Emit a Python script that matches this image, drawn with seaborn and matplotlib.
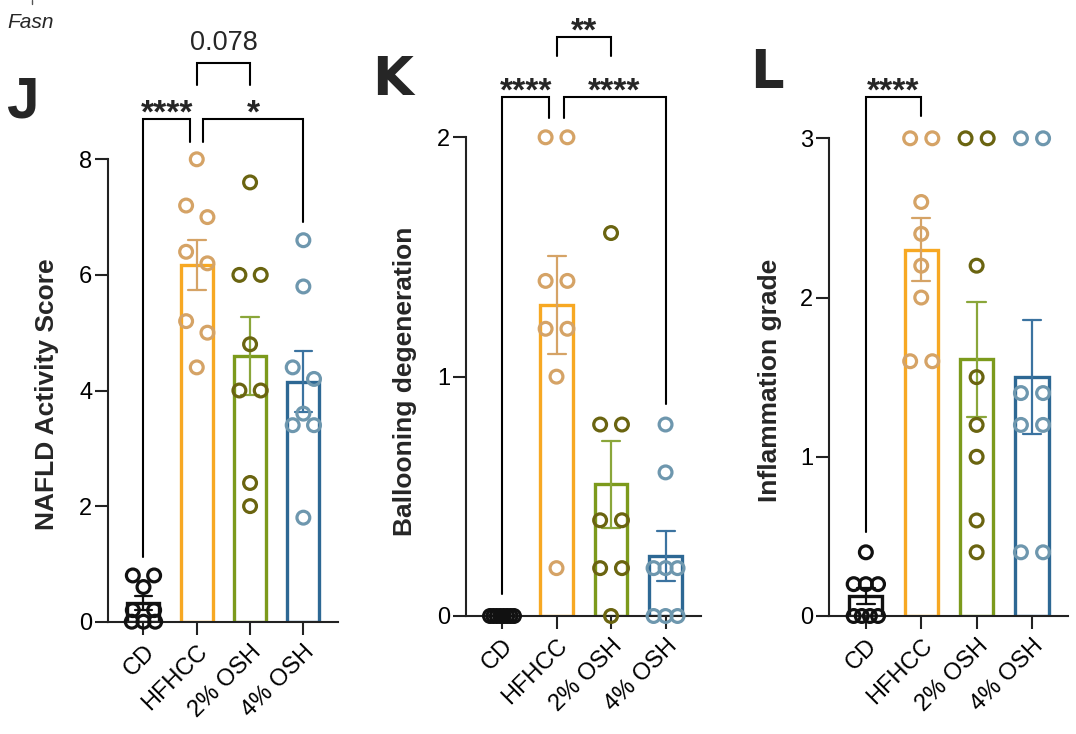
import numpy as np
import pandas as pd
import matplotlib
matplotlib.use("Agg")
import matplotlib.pyplot as plt
import matplotlib.transforms as mtrans
import seaborn as sns
from matplotlib.lines import Line2D

groups = ["CD", "HFHCC", "2% OSH", "4% OSH"]

# NAFLD activity score
nas_cd = [0.8, 0.8, 0.6, 0.2, 0.2, 0.0, 0.0, 0.0]
nas_hfhcc = [8.0, 7.2, 7.0, 6.4, 6.2, 5.2, 5.0, 4.4]
nas_osh2 = [7.6, 6.0, 6.0, 4.8, 4.0, 4.0, 2.4, 2.0]
nas_osh4 = [6.6, 5.8, 4.4, 4.2, 3.6, 3.4, 3.4, 1.8]

# ballooning degeneration
ball_cd = [0.0, 0.0, 0.0, 0.0, 0.0, 0.0, 0.0, 0.0]
ball_hfhcc = [2.0, 2.0, 1.4, 1.4, 1.2, 1.2, 1.0, 0.2]
ball_osh2 = [1.6, 0.8, 0.8, 0.4, 0.4, 0.2, 0.2, 0.0]
ball_osh4 = [0.8, 0.6, 0.2, 0.2, 0.2, 0.0, 0.0, 0.0]

# inflammation grade
infl_cd = [0.4, 0.2, 0.2, 0.2, 0.0, 0.0, 0.0, 0.0]
infl_hfhcc = [3.0, 3.0, 2.6, 2.4, 2.2, 2.0, 1.6, 1.6]
infl_osh2 = [3.0, 3.0, 2.2, 1.5, 1.2, 1.0, 0.6, 0.4]
infl_osh4 = [3.0, 3.0, 1.4, 1.4, 1.2, 1.2, 0.4, 0.4]

bar_colors = ["#111111", "#F7A823", "#7C9A1C", "#2D6894"]
dot_colors = ["#111111", "#D5A366", "#6A6410", "#6E97AE"]
err_colors = ["#111111", "#D5A366", "#8AA63A", "#3B73A0"]

sns.set_style("ticks")
plt.rcParams["font.family"] = ["Liberation Sans", "DejaVu Sans"]

W, H = 1076, 734
fig = plt.figure(figsize=(W / 100, H / 100), dpi=100)


def px_axes(left, right, bottom, top):
    return fig.add_axes([left / W, 1 - bottom / H, (right - left) / W, (bottom - top) / H])


def dot_offsets(vals, near):
    # GraphPad-like spreading: equal values side by side, close pairs split
    vals = np.asarray(vals, float)
    order = np.argsort(-vals, kind="stable")
    rows = []
    for i in order:
        if rows and vals[rows[-1][0]] == vals[i]:
            rows[-1].append(i)
        else:
            rows.append([i])
    off = np.zeros(len(vals))
    j = 0
    while j < len(rows):
        r = rows[j]
        if (len(r) == 1 and j + 1 < len(rows) and len(rows[j + 1]) == 1
                and vals[r[0]] - vals[rows[j + 1][0]] < near):
            off[r[0]] = -0.2
            off[rows[j + 1][0]] = 0.2
            j += 2
            continue
        k = len(r)
        if k > 1:
            step = min(0.4, 0.44 / (k - 1))
            off[r] = (np.arange(k) - (k - 1) / 2) * step
        j += 1
    return off


def bracket(ax, x1, x2, top, y1, y2, label, fs=24, bold=True, ty=None):
    ax.plot([x1, x1, x2, x2], [y1, top, top, y2], color="black", lw=1.5,
            clip_on=False, solid_joinstyle="miter")
    if ty is None:
        ty = top
        tr = mtrans.offset_copy(ax.transData, fig=fig, y=-2.5, units="points")
    else:
        tr = ax.transData
    ax.text((x1 + x2) / 2, ty, label, ha="center", va="baseline", transform=tr,
            fontsize=fs, fontweight="bold" if bold else "normal", clip_on=False)


def panel(ax, series, ytop, yticks):
    df = pd.DataFrame({
        "group": np.repeat(groups, [len(s) for s in series]),
        "value": np.concatenate(series),
    })
    sns.barplot(data=df, x="group", y="value", hue="group", order=groups,
                hue_order=groups, palette=bar_colors, fill=False, width=0.6,
                linewidth=2.4, errorbar="se", capsize=0.33,
                err_kws={"linewidth": 1.6}, legend=False, ax=ax)
    for line, c in zip(ax.lines, err_colors):
        line.set_color(c)
        line.set_zorder(4)
    near = ytop * 0.032
    for i, s in enumerate(series):
        xs = i + dot_offsets(s, near)
        ax.scatter(xs, s, s=85, facecolors="none", edgecolors=dot_colors[i],
                   linewidths=2.3, zorder=5, clip_on=False)
    ax.set_xlim(-0.66, 3.65)
    ax.set_ylim(0, ytop)
    ax.set_yticks(yticks)
    ax.set_yticklabels([str(t) for t in yticks])
    ax.set_xticks(range(len(groups)))
    ax.set_xticklabels(groups, rotation=45, ha="right", rotation_mode="anchor")
    ax.set_xlabel("")
    ax.set_ylabel("")
    sns.despine(ax=ax)
    for sp in ["left", "bottom"]:
        ax.spines[sp].set_linewidth(1.5)
        ax.spines[sp].set_color("#222222")
    ax.tick_params(axis="both", direction="out", length=9.5, width=1.5,
                   labelsize=17, colors="#222222", labelcolor="black", pad=2)
    ax.tick_params(axis="x", pad=4)
    ax.set_facecolor("none")


# J
ax_j = px_axes(108.3, 338, 621.7, 159.3)
panel(ax_j, [nas_cd, nas_hfhcc, nas_osh2, nas_osh4], 8, [0, 2, 4, 6, 8])
bracket(ax_j, 0, 0.87, 8.69, 1.12, 8.30, "****")
bracket(ax_j, 1.12, 3.0, 8.69, 8.30, 6.92, "*")
bracket(ax_j, 1.0, 2.0, 9.66, 9.28, 9.28, "0.078", fs=19.5, bold=False, ty=9.89)

# K
ax_k = px_axes(466, 701, 616, 137.3)
panel(ax_k, [ball_cd, ball_hfhcc, ball_osh2, ball_osh4], 2, [0, 1, 2])
bracket(ax_k, 0, 0.87, 2.17, 0.09, 2.08, "****")
bracket(ax_k, 1.13, 3.0, 2.17, 2.08, 0.886, "****")
bracket(ax_k, 1.0, 2.0, 2.42, 2.34, 2.34, "**")

# L
ax_l = px_axes(829.3, 1068, 616, 138.3)
panel(ax_l, [infl_cd, infl_hfhcc, infl_osh2, infl_osh4], 3, [0, 1, 2, 3])
bracket(ax_l, 0, 1.0, 3.26, 0.53, 3.14, "****")

# axis titles
fig.text(47 / W, 1 - 394 / H, "NAFLD Activity Score", rotation=90, ha="center",
         va="center", fontsize=19, fontweight="bold")
fig.text(405 / W, 1 - 381 / H, "Ballooning degeneration", rotation=90, ha="center",
         va="center", fontsize=19, fontweight="bold")
fig.text(770 / W, 1 - 380 / H, "Inflammation grade", rotation=90, ha="center",
         va="center", fontsize=19, fontweight="bold")

# panel letters
letter_font = dict(fontsize=38, fontweight="bold", family="DejaVu Sans", va="baseline")
fig.text(6 / W, 1 - 118 / H, "J", fontsize=42, fontweight="bold",
         family="Liberation Sans", va="baseline")
fig.text(372 / W, 1 - 95 / H, "K", **letter_font)
fig.text(750 / W, 1 - 88 / H, "L", **letter_font)

# leftover label from the panel above
fig.text(7 / W, 1 - 28 / H, "Fasn", fontsize=15, style="italic", va="baseline")
fig.add_artist(Line2D([32 / W, 32 / W], [1, 1 - 4 / H], color="#555555", lw=1))

fig.savefig("out.png", dpi=100, facecolor="white")
